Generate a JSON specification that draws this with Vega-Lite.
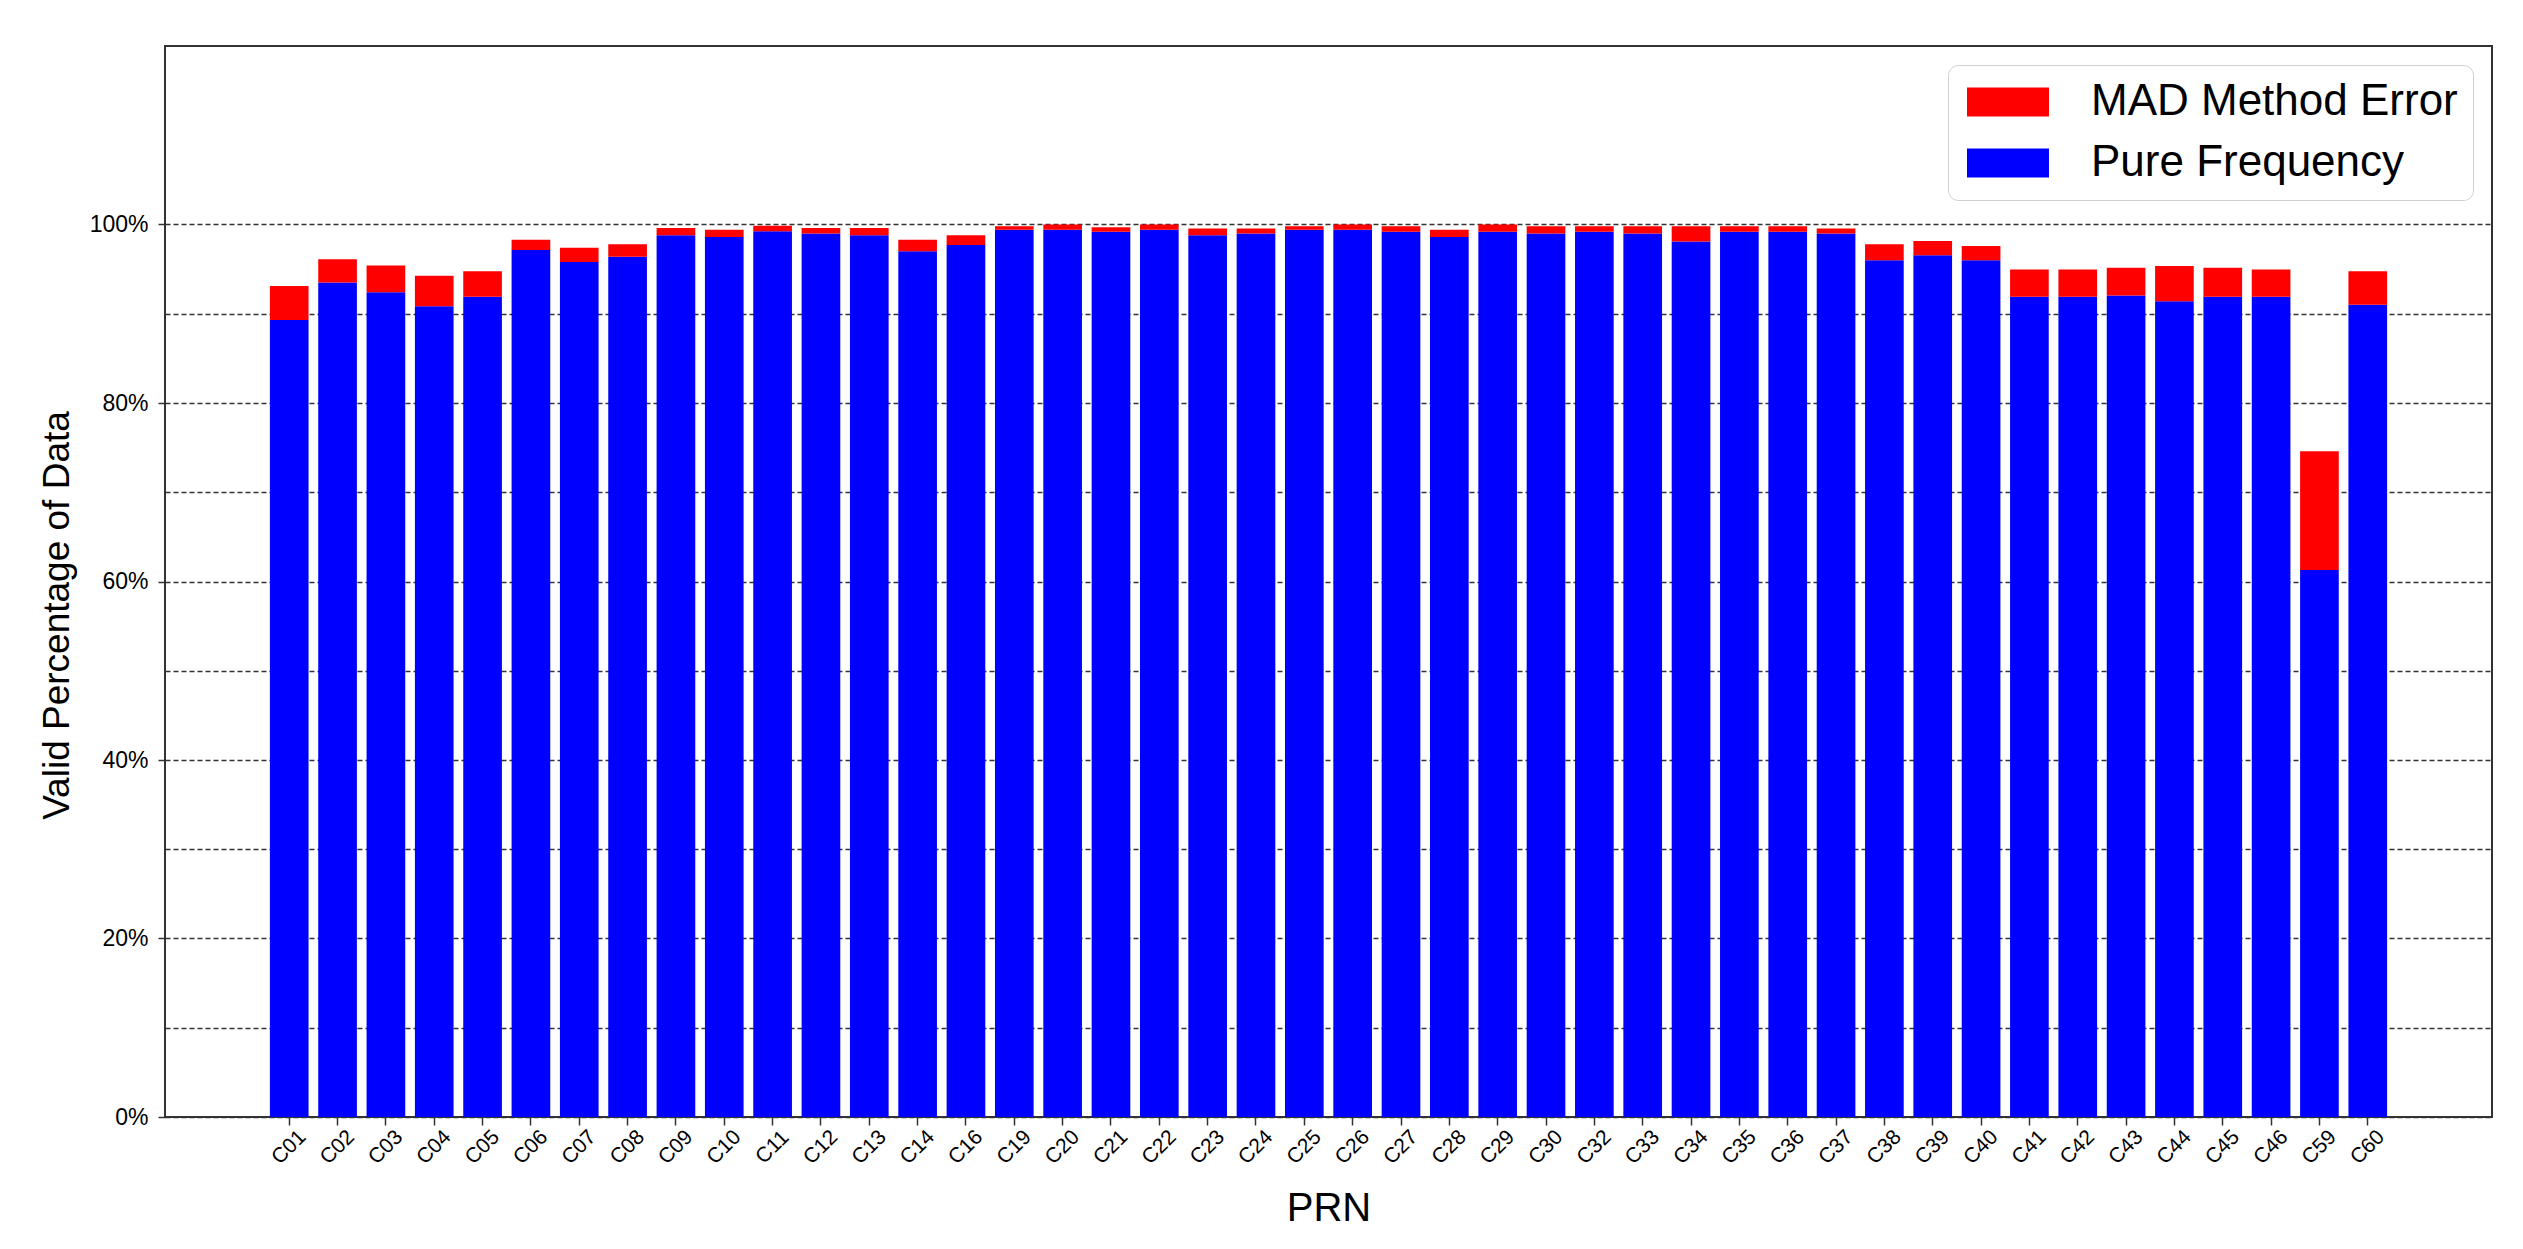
{
  "$schema": "https://vega.github.io/schema/vega-lite/v6.json",
  "autosize": "none",
  "width": 2327,
  "height": 1071,
  "padding": {"left": 165, "top": 46, "right": 31, "bottom": 132},
  "background": "white",
  "config": {
    "font": "Liberation Sans",
    "view": {"stroke": "#333333", "strokeWidth": 2}
  },
  "data": {
    "values": [
      {"prn": "C01", "series": "Pure Frequency", "pct": 0.893}, {"prn": "C01", "series": "MAD Method Error", "pct": 0.038},
      {"prn": "C02", "series": "Pure Frequency", "pct": 0.935}, {"prn": "C02", "series": "MAD Method Error", "pct": 0.026},
      {"prn": "C03", "series": "Pure Frequency", "pct": 0.924}, {"prn": "C03", "series": "MAD Method Error", "pct": 0.030},
      {"prn": "C04", "series": "Pure Frequency", "pct": 0.9085}, {"prn": "C04", "series": "MAD Method Error", "pct": 0.034},
      {"prn": "C05", "series": "Pure Frequency", "pct": 0.919}, {"prn": "C05", "series": "MAD Method Error", "pct": 0.0285},
      {"prn": "C06", "series": "Pure Frequency", "pct": 0.9715}, {"prn": "C06", "series": "MAD Method Error", "pct": 0.0115},
      {"prn": "C07", "series": "Pure Frequency", "pct": 0.958}, {"prn": "C07", "series": "MAD Method Error", "pct": 0.016},
      {"prn": "C08", "series": "Pure Frequency", "pct": 0.964}, {"prn": "C08", "series": "MAD Method Error", "pct": 0.014},
      {"prn": "C09", "series": "Pure Frequency", "pct": 0.988}, {"prn": "C09", "series": "MAD Method Error", "pct": 0.008},
      {"prn": "C10", "series": "Pure Frequency", "pct": 0.986}, {"prn": "C10", "series": "MAD Method Error", "pct": 0.008},
      {"prn": "C11", "series": "Pure Frequency", "pct": 0.9925}, {"prn": "C11", "series": "MAD Method Error", "pct": 0.006},
      {"prn": "C12", "series": "Pure Frequency", "pct": 0.990}, {"prn": "C12", "series": "MAD Method Error", "pct": 0.006},
      {"prn": "C13", "series": "Pure Frequency", "pct": 0.988}, {"prn": "C13", "series": "MAD Method Error", "pct": 0.008},
      {"prn": "C14", "series": "Pure Frequency", "pct": 0.970}, {"prn": "C14", "series": "MAD Method Error", "pct": 0.013},
      {"prn": "C16", "series": "Pure Frequency", "pct": 0.977}, {"prn": "C16", "series": "MAD Method Error", "pct": 0.011},
      {"prn": "C19", "series": "Pure Frequency", "pct": 0.994}, {"prn": "C19", "series": "MAD Method Error", "pct": 0.004},
      {"prn": "C20", "series": "Pure Frequency", "pct": 0.994}, {"prn": "C20", "series": "MAD Method Error", "pct": 0.006},
      {"prn": "C21", "series": "Pure Frequency", "pct": 0.992}, {"prn": "C21", "series": "MAD Method Error", "pct": 0.005},
      {"prn": "C22", "series": "Pure Frequency", "pct": 0.994}, {"prn": "C22", "series": "MAD Method Error", "pct": 0.006},
      {"prn": "C23", "series": "Pure Frequency", "pct": 0.988}, {"prn": "C23", "series": "MAD Method Error", "pct": 0.0075},
      {"prn": "C24", "series": "Pure Frequency", "pct": 0.990}, {"prn": "C24", "series": "MAD Method Error", "pct": 0.0055},
      {"prn": "C25", "series": "Pure Frequency", "pct": 0.994}, {"prn": "C25", "series": "MAD Method Error", "pct": 0.004},
      {"prn": "C26", "series": "Pure Frequency", "pct": 0.994}, {"prn": "C26", "series": "MAD Method Error", "pct": 0.006},
      {"prn": "C27", "series": "Pure Frequency", "pct": 0.992}, {"prn": "C27", "series": "MAD Method Error", "pct": 0.006},
      {"prn": "C28", "series": "Pure Frequency", "pct": 0.986}, {"prn": "C28", "series": "MAD Method Error", "pct": 0.008},
      {"prn": "C29", "series": "Pure Frequency", "pct": 0.992}, {"prn": "C29", "series": "MAD Method Error", "pct": 0.008},
      {"prn": "C30", "series": "Pure Frequency", "pct": 0.990}, {"prn": "C30", "series": "MAD Method Error", "pct": 0.008},
      {"prn": "C32", "series": "Pure Frequency", "pct": 0.992}, {"prn": "C32", "series": "MAD Method Error", "pct": 0.006},
      {"prn": "C33", "series": "Pure Frequency", "pct": 0.990}, {"prn": "C33", "series": "MAD Method Error", "pct": 0.008},
      {"prn": "C34", "series": "Pure Frequency", "pct": 0.981}, {"prn": "C34", "series": "MAD Method Error", "pct": 0.017},
      {"prn": "C35", "series": "Pure Frequency", "pct": 0.992}, {"prn": "C35", "series": "MAD Method Error", "pct": 0.006},
      {"prn": "C36", "series": "Pure Frequency", "pct": 0.992}, {"prn": "C36", "series": "MAD Method Error", "pct": 0.006},
      {"prn": "C37", "series": "Pure Frequency", "pct": 0.990}, {"prn": "C37", "series": "MAD Method Error", "pct": 0.0055},
      {"prn": "C38", "series": "Pure Frequency", "pct": 0.960}, {"prn": "C38", "series": "MAD Method Error", "pct": 0.018},
      {"prn": "C39", "series": "Pure Frequency", "pct": 0.9655}, {"prn": "C39", "series": "MAD Method Error", "pct": 0.016},
      {"prn": "C40", "series": "Pure Frequency", "pct": 0.960}, {"prn": "C40", "series": "MAD Method Error", "pct": 0.016},
      {"prn": "C41", "series": "Pure Frequency", "pct": 0.919}, {"prn": "C41", "series": "MAD Method Error", "pct": 0.0305},
      {"prn": "C42", "series": "Pure Frequency", "pct": 0.919}, {"prn": "C42", "series": "MAD Method Error", "pct": 0.0305},
      {"prn": "C43", "series": "Pure Frequency", "pct": 0.9205}, {"prn": "C43", "series": "MAD Method Error", "pct": 0.031},
      {"prn": "C44", "series": "Pure Frequency", "pct": 0.914}, {"prn": "C44", "series": "MAD Method Error", "pct": 0.0395},
      {"prn": "C45", "series": "Pure Frequency", "pct": 0.919}, {"prn": "C45", "series": "MAD Method Error", "pct": 0.0325},
      {"prn": "C46", "series": "Pure Frequency", "pct": 0.919}, {"prn": "C46", "series": "MAD Method Error", "pct": 0.0305},
      {"prn": "C59", "series": "Pure Frequency", "pct": 0.613}, {"prn": "C59", "series": "MAD Method Error", "pct": 0.133},
      {"prn": "C60", "series": "Pure Frequency", "pct": 0.910}, {"prn": "C60", "series": "MAD Method Error", "pct": 0.0375}
    ]
  },
  "mark": {"type": "bar"},
  "encoding": {
    "x": {
      "field": "prn",
      "type": "nominal",
      "scale": {
        "domain": ["_a", "_b", "C01", "C02", "C03", "C04", "C05", "C06", "C07", "C08", "C09", "C10", "C11", "C12", "C13", "C14", "C16", "C19", "C20", "C21", "C22", "C23", "C24", "C25", "C26", "C27", "C28", "C29", "C30", "C32", "C33", "C34", "C35", "C36", "C37", "C38", "C39", "C40", "C41", "C42", "C43", "C44", "C45", "C46", "C59", "C60", "_c", "_d"],
        "paddingInner": 0.2,
        "paddingOuter": 0.17
      },
      "axis": {
        "title": "PRN",
        "titleFontSize": 40,
        "titleFontWeight": "normal",
        "titleColor": "#000000",
        "titleBaseline": "alphabetic",
        "titleY": 103,
        "labelExpr": "indexof(datum.value, '_') == 0 ? '' : datum.value",
        "labelAngle": -45,
        "labelAlign": "center",
        "labelBaseline": "middle",
        "labelPadding": 22,
        "labelFontSize": 21,
        "labelColor": "#000000",
        "labelOverlap": false,
        "tickSize": 8,
        "tickWidth": 1.5,
        "tickColor": {"condition": {"test": "indexof(datum.value, '_') == 0", "value": "transparent"}, "value": "#333333"},
        "domain": false,
        "grid": false
      }
    },
    "y": {
      "field": "pct",
      "type": "quantitative",
      "stack": "zero",
      "scale": {"domain": [0, 1.2], "nice": false},
      "axis": {
        "title": "Valid Percentage of Data",
        "titleFontSize": 37,
        "titleFontWeight": "normal",
        "titleColor": "#000000",
        "titleAngle": 270,
        "titleAlign": "center",
        "titleBaseline": "alphabetic",
        "titleX": -97,
        "titleY": 569,
        "values": [0, 0.1, 0.2, 0.3, 0.4, 0.5, 0.6, 0.7, 0.8, 0.9, 1.0],
        "labelExpr": "round(datum.value * 5) == datum.value * 5 ? format(datum.value, '.0%') : ''",
        "labelFontSize": 23,
        "labelColor": "#000000",
        "labelPadding": 10,
        "labelOverlap": false,
        "tickSize": 7,
        "tickWidth": 1.5,
        "tickColor": {"condition": {"test": "abs(datum.value * 5 - round(datum.value * 5)) > 0.1", "value": "transparent"}, "value": "#333333"},
        "domain": false,
        "grid": true,
        "gridColor": "#333333",
        "gridWidth": 1.5,
        "gridDash": [5, 3]
      }
    },
    "color": {
      "field": "series",
      "type": "nominal",
      "scale": {"domain": ["MAD Method Error", "Pure Frequency"], "range": ["#ff0000", "#0000ff"]},
      "legend": {
        "title": null,
        "orient": "top-right",
        "offset": 19,
        "symbolType": "M-2.278,-0.806L2.278,-0.806L2.278,0.806L-2.278,0.806Z",
        "symbolSize": 1296,
        "symbolOffset": 23,
        "symbolStrokeWidth": 0,
        "symbolOpacity": 1,
        "labelFontSize": 44,
        "labelColor": "#000000",
        "labelLimit": 0,
        "labelOffset": 61,
        "rowPadding": 17,
        "padding": 15,
        "strokeColor": "#d0d0d0",
        "cornerRadius": 10,
        "fillColor": "#ffffff"
      }
    },
    "order": {"field": "series", "sort": "descending"}
  }
}
